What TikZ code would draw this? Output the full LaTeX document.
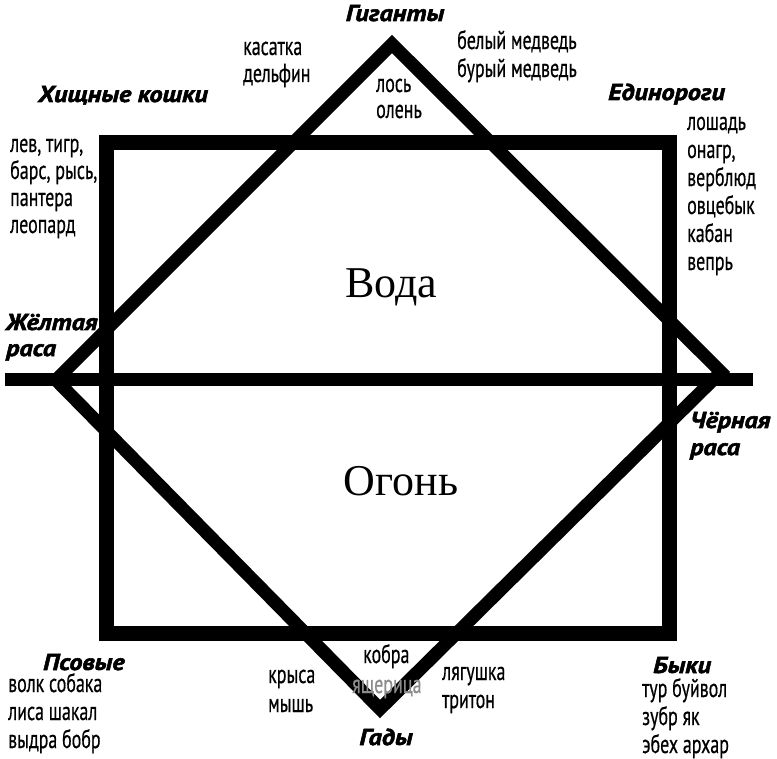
\documentclass[tikz,border=0pt]{standalone}
\usepackage{fontspec}
\setmainfont{PT Sans}
\newfontfamily\beastfont{PT Sans}[FakeStretch=0.69, FakeBold=0.5]
\newfontfamily\clanfont{PT Sans}[FakeStretch=1.14, FakeBold=2.4]
\newfontfamily\elemfont{Liberation Serif}
\usepackage{tikz}

\begin{document}
\begin{tikzpicture}[x=1pt, y=-1pt,
  beast/.style={anchor=base west, inner sep=0pt, font=\beastfont\fontsize{26}{30}\selectfont},
  clan/.style={anchor=base west, inner sep=0pt, font=\clanfont\bfseries\itshape\fontsize{23}{27}\selectfont},
  elem/.style={anchor=base, inner sep=0pt, font=\elemfont\fontsize{44}{50}\selectfont},
  rim/.style={line width=15pt, miter limit=10},
  edge/.style={line width=13pt, miter limit=10}
]
  \useasboundingbox (0,0) rectangle (777,759);

  % frames
  \coordinate (nw) at (106,143); \coordinate (ne) at (669,143);
  \coordinate (se) at (669,633); \coordinate (sw) at (106,633);
  \coordinate (top) at (392,44);  \coordinate (right) at (721,372);
  \coordinate (bottom) at (380,709); \coordinate (left) at (56,380);
  \coordinate (axisL) at (5,380); \coordinate (axisR) at (753,380);

  \draw[rim] (nw) -- (ne) -- (se) -- (sw) -- cycle;
  \draw[edge] (top) -- (right) -- (bottom) -- (left) -- cycle;
  \draw[line width=13pt] (axisL) -- (axisR);

  \node[elem] (water) at (391,298) {Вода};
  \node[elem] (fire)  at (401,495) {Огонь};

  % groups
  \node[clan, anchor=base] (giants) at (395,21) {Гиганты};
  \node[clan] (cats)    at (38,102)  {Хищные кошки};
  \node[clan] (unicorn) at (608,100) {Единороги};
  \node[clan] (yellow1) at (6,330)   {Жёлтая};
  \node[clan] (yellow2) at (6,356)   {раса};
  \node[clan] (black1)  at (690,428) {Чёрная};
  \node[clan] (black2)  at (690,455) {раса};
  \node[clan] (dogs)    at (43,670)  {Псовые};
  \node[clan, anchor=base] (reptiles) at (386,745) {Гады};
  \node[clan] (bulls)   at (653,673) {Быки};

  % animals
  \foreach \w [count=\i] in {касатка, дельфин}
    \node[beast] (whale\i) at (243,28+27*\i) {\w};
  \foreach \w [count=\i] in {белый медведь, бурый медведь}
    \node[beast] (bear\i) at (457,21+28*\i) {\w};
  \foreach \w [count=\i] in {лось, олень}
    \node[beast] (deer\i) at (376,66+26*\i) {\w};
  \foreach \w [count=\i] in {{лев, тигр,}, {барс, рысь,}, пантера, леопард}
    \node[beast] (cat\i) at (10,125+27*\i) {\w};
  \foreach \w [count=\i] in {лошадь, {онагр,}, верблюд, овцебык, кабан, вепрь}
    \node[beast] (horse\i) at (687,102+28*\i) {\w};
  \foreach \w [count=\i] in {волк собака, лиса шакал, выдра бобр}
    \node[beast] (dog\i) at (8,664+28*\i) {\w};
  \foreach \w [count=\i] in {крыса, мышь}
    \node[beast] (rat\i) at (268,654+29*\i) {\w};
  \foreach \w [count=\i] in {лягушка, тритон}
    \node[beast] (frog\i) at (442,652+28*\i) {\w};
  \foreach \w [count=\i] in {тур буйвол, зубр як, эбех архар}
    \node[beast] (bull\i) at (642,669+28*\i) {\w};
  \node[beast] (cobra)  at (363,663) {кобра};
  \node[beast, text=black!45] (lizard) at (352,693) {ящерица};
\end{tikzpicture}
\end{document}
